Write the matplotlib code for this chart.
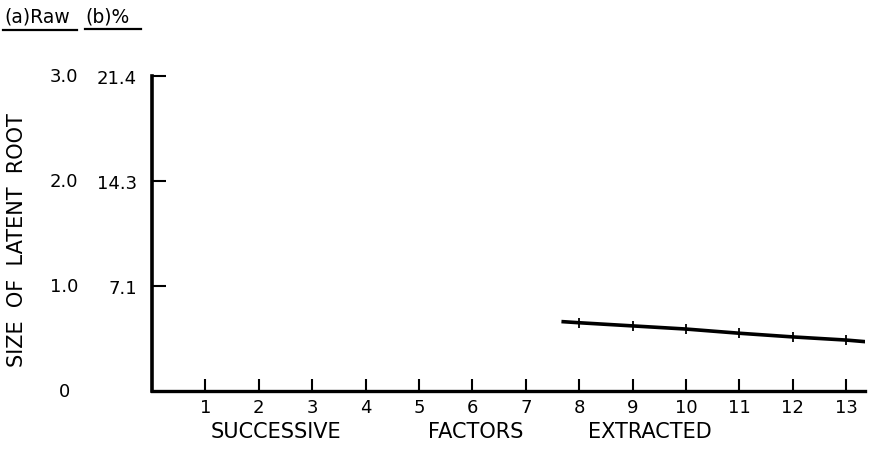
import matplotlib
matplotlib.use("Agg")
import matplotlib.pyplot as plt
import matplotlib.transforms as mtransforms

# scree data: latent roots of the later factors
factors = [7.7, 8, 9, 10, 11, 12, 13, 13.35]
roots = [0.66, 0.65, 0.62, 0.59, 0.55, 0.515, 0.485, 0.47]

x_ticks = list(range(1, 14))
raw_ticks = [0, 1.0, 2.0, 3.0]
raw_labels = ["0", "1.0", "2.0", "3.0"]
pct_labels = ["7.1", "14.3", "21.4"]

fig = plt.figure(figsize=(8.75, 4.6), dpi=100)
ax = fig.add_axes([152 / 875, 1 - 392 / 460, 713 / 875, 315 / 460])

ax.plot(factors, roots, color="black", lw=2.6, marker="|", ms=7, mew=1.3,
        markevery=[1, 2, 3, 4, 5, 6])

ax.set_xlim(0, 13.35)
ax.set_ylim(0, 3.0)
for s in ["top", "right"]:
    ax.spines[s].set_visible(False)
ax.spines["left"].set_linewidth(2.6)
ax.spines["bottom"].set_linewidth(2.4)

ax.set_xticks(x_ticks)
ax.set_xticklabels([str(v) for v in x_ticks], fontsize=13)
ax.tick_params(axis="x", direction="in", length=9, width=1.5, pad=5)

ax.set_yticks(raw_ticks[1:])
ax.set_yticklabels(pct_labels, fontsize=13)
ax.tick_params(axis="y", direction="in", length=10, width=1.5, pad=11)

# raw value column left of the percent column
trans = mtransforms.blended_transform_factory(fig.transFigure, ax.transData)
for v, lab in zip(raw_ticks, raw_labels):
    ax.text(64 / 875, v, lab, transform=trans, ha="center", va="center",
            fontsize=13, clip_on=False)

# column headers with underlines
fig.text(4 / 875, 1 - 17 / 460, "(a)Raw", fontsize=13.5, ha="left", va="center")
fig.text(85 / 875, 1 - 17 / 460, "(b)%", fontsize=13.5, ha="left", va="center")
fig.add_artist(plt.Line2D([3 / 875, 77 / 875], [1 - 31 / 460, 1 - 31 / 460],
                          color="black", lw=1.6))
fig.add_artist(plt.Line2D([85 / 875, 141 / 875], [1 - 30 / 460, 1 - 30 / 460],
                          color="black", lw=1.6))

fig.text(17 / 875, 1 - 240 / 460, "SIZE  OF  LATENT  ROOT",
         rotation=90, fontsize=15, ha="center", va="center")

for word, xc in [("SUCCESSIVE", 276), ("FACTORS", 476), ("EXTRACTED", 650)]:
    fig.text(xc / 875, 1 - 432 / 460, word, fontsize=15,
             ha="center", va="center")

fig.savefig("out.png", dpi=100)
